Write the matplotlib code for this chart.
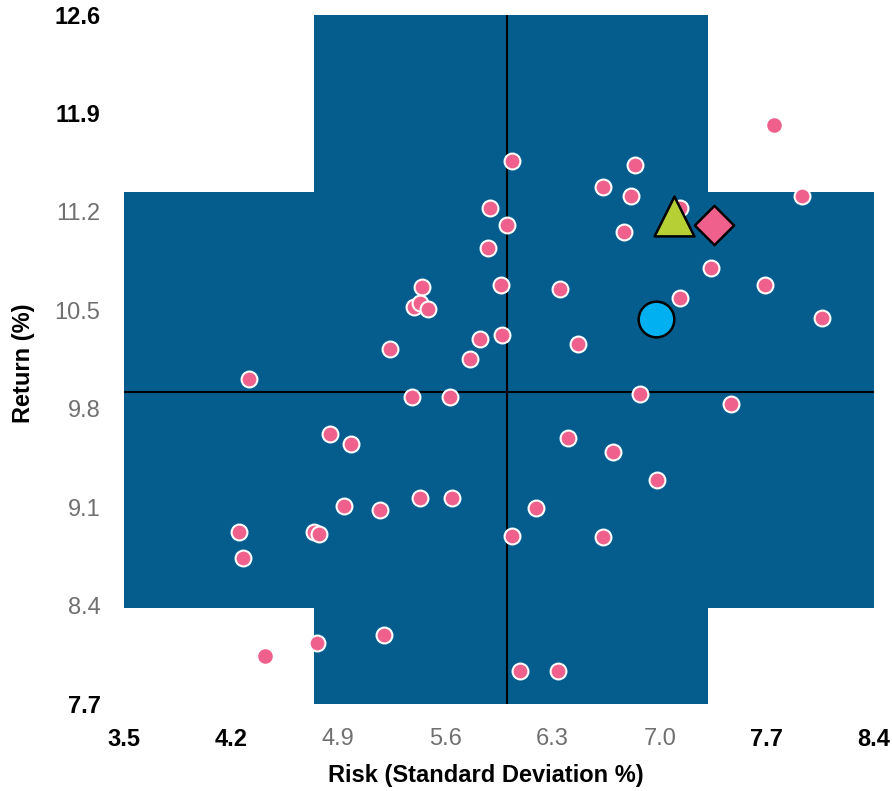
import matplotlib.pyplot as plt
import numpy as np

plt.rcParams["font.family"] = ["Liberation Sans", "DejaVu Sans"]

# ---- data -------------------------------------------------------------
risk = [7.75, 6.035, 6.84, 6.63, 6.81, 7.93, 5.89, 6.0, 6.77, 7.13,
        5.88, 7.335, 5.447, 5.963, 6.35, 7.69, 7.13, 5.395, 5.434, 5.486,
        8.06, 5.97, 5.826, 5.761, 5.238, 4.317, 5.382, 5.63, 4.846, 4.983,
        4.937, 5.173, 5.434, 5.643, 6.192, 6.035, 4.251, 4.277, 4.741, 4.774,
        6.466, 6.871, 7.466, 6.401, 6.695, 6.982, 6.629, 5.199, 4.761, 4.421,
        6.087, 6.336]
ret = [11.82, 11.56, 11.53, 11.38, 11.31, 11.31, 11.23, 11.11, 11.06, 11.23,
       10.94, 10.80, 10.665, 10.68, 10.65, 10.68, 10.59, 10.523, 10.552, 10.509,
       10.445, 10.324, 10.296, 10.153, 10.225, 10.011, 9.883, 9.883, 9.62, 9.549,
       9.108, 9.079, 9.165, 9.165, 9.094, 8.894, 8.923, 8.738, 8.923, 8.909,
       10.26, 9.904, 9.833, 9.591, 9.492, 9.293, 8.887, 8.19, 8.133, 8.041,
       7.934, 7.934]

# highlighted portfolios
circle_pt = (6.976, 10.438)
triangle_pt = (7.093, 11.17)
diamond_pt = (7.355, 11.106)

# shaded band limits and crosshair
band_x = (4.741, 7.315)
band_y = (8.38, 11.34)
cross_x = 6.0
cross_y = 9.92

xticks = [3.5, 4.2, 4.9, 5.6, 6.3, 7.0, 7.7, 8.4]
yticks = [7.7, 8.4, 9.1, 9.8, 10.5, 11.2, 11.9, 12.6]

# ---- plot -------------------------------------------------------------
blue = "#045d8d"
pink = "#f0608c"

fig = plt.figure(figsize=(8.92, 7.91), dpi=100)
ax = fig.add_axes([0.139, 0.110, 0.8408, 0.871])
ax.set_xlim(3.5, 8.4)
ax.set_ylim(7.7, 12.6)

ax.axvspan(*band_x, color=blue, lw=0, zorder=0)
ax.axhspan(*band_y, color=blue, lw=0, zorder=0)
ax.axvline(cross_x, color="black", lw=1.5, zorder=1)
ax.axhline(cross_y, color="black", lw=1.5, zorder=1)

x = np.array(risk)
y = np.array(ret)
inside = ((x >= band_x[0]) & (x <= band_x[1])) | ((y >= band_y[0]) & (y <= band_y[1]))
ax.scatter(x[inside], y[inside], s=130, color=pink, edgecolor="white", lw=1.5, zorder=2)
ax.scatter(x[~inside], y[~inside], s=110, color=pink, lw=0, zorder=2)

ax.scatter(*circle_pt, s=660, marker="o", color="#00b0f0", edgecolor="black", lw=1.8, zorder=3)
ax.scatter(*triangle_pt, s=820, marker="^", color="#b5cf35", edgecolor="black", lw=1.8, zorder=3)
ax.scatter(*diamond_pt, s=400, marker="D", color=pink, edgecolor="black", lw=1.8, zorder=3)

for s in ax.spines.values():
    s.set_visible(False)
ax.tick_params(length=0, labelsize=17, pad=17)
ax.set_xticks(xticks)
ax.set_yticks(yticks)
ax.set_xticklabels([f"{v:.1f}" for v in xticks])
ax.set_yticklabels([f"{v:.1f}" for v in yticks])
for lab, v in zip(ax.get_xticklabels(), xticks):
    if band_x[0] <= v <= band_x[1]:
        lab.set_color("#707070")
    else:
        lab.set_fontweight("bold")
for lab, v in zip(ax.get_yticklabels(), yticks):
    if band_y[0] <= v <= band_y[1]:
        lab.set_color("#707070")
    else:
        lab.set_fontweight("bold")

ax.set_xlabel("Risk (Standard Deviation %)", fontsize=17, fontweight="bold", labelpad=10, x=0.483)
ax.set_ylabel("Return (%)", fontsize=17, fontweight="bold", labelpad=14, y=0.495)

fig.savefig("out.png", dpi=100)
